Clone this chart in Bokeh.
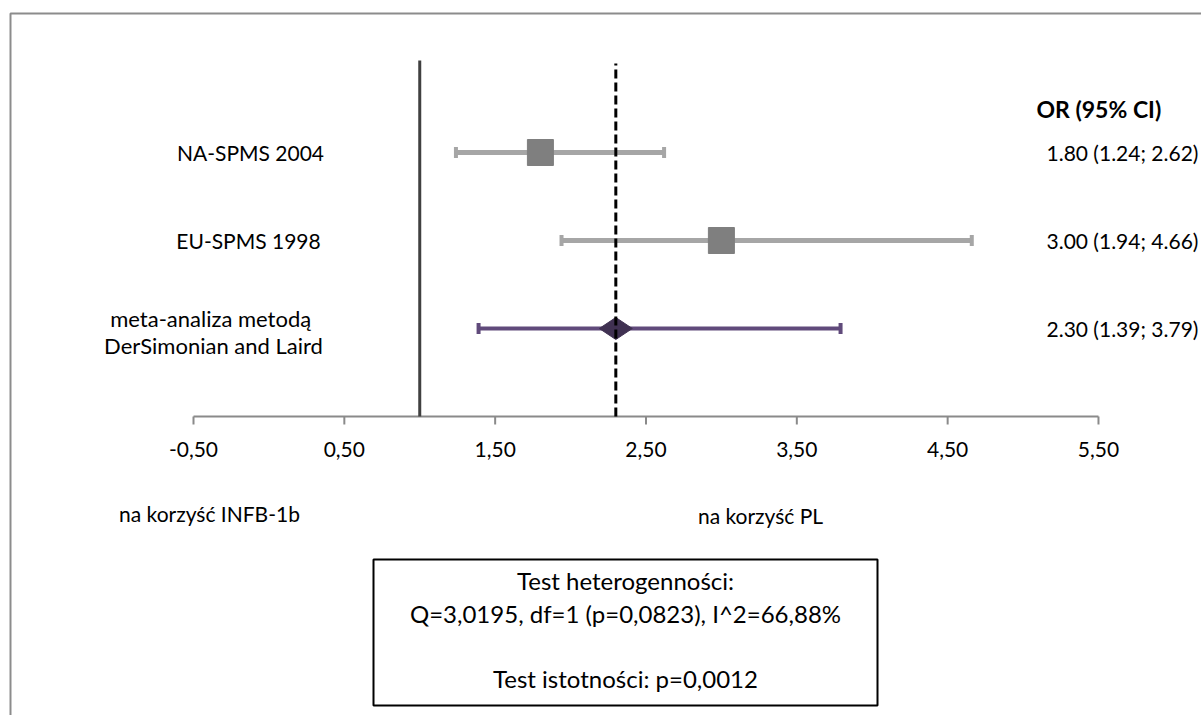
import math
from bokeh.plotting import figure
from bokeh.models import Range1d
from bokeh.embed import file_html
from bokeh.resources import INLINE
from bokeh.core.properties import value

# ---------------- data ----------------
studies = ["NA-SPMS 2004", "EU-SPMS 1998"]
meta_label = ["meta-analiza  metodą", "DerSimonian and Laird"]
or_values = [1.80, 3.00]
ci_low = [1.24, 1.94]
ci_high = [2.62, 4.66]
meta_or = 2.30
meta_low = 1.39
meta_high = 3.79
null_value = 1.0
tick_values = [-0.5, 0.5, 1.5, 2.5, 3.5, 4.5, 5.5]
tick_labels = ["-0,50", "0,50", "1,50", "2,50", "3,50", "4,50", "5,50"]
study_rows = [3, 2]
meta_row = 1
side_labels = ["na korzyść INFB-1b", "na korzyść PL"]
stats_lines = ["Test heterogenności:",
               "Q=3,0195, df=1 (p=0,0823), I^2=66,88%",
               "Test istotności: p=0,0012"]

# ---------------- layout helpers (pixel -> data) ----------------
W, H = 1201, 715
PX_X0, PX_PER_X = 193.0, 150.83   # pixel of x=-0.5, pixels per unit
PX_Y0, PX_PER_Y = 416.0, 88.0     # pixel of y=0 (axis), pixels per row


def xd(px):
    return -0.5 + (px - PX_X0) / PX_PER_X


def yd(py):
    return (PX_Y0 - py) / PX_PER_Y


FONT = value("Lato")

p = figure(width=W, height=H, x_range=Range1d(xd(0), xd(W)),
           y_range=Range1d(yd(H), yd(0)), output_backend="svg",
           toolbar_location=None, min_border=0,
           x_axis_location=None, y_axis_location=None)
p.grid.visible = False
p.outline_line_color = None
p.background_fill_color = "white"
p.border_fill_color = "white"

# outer chart border (left & top visible)
p.line(x=[xd(W + 5), xd(10), xd(10)], y=[yd(13), yd(13), yd(H + 5)],
       line_color="#8c8c8c", line_width=2)

# axis line and ticks
p.segment(x0=[tick_values[0]], x1=[tick_values[-1]], y0=[0], y1=[0],
          line_color="#8a8a8a", line_width=2)
p.segment(x0=tick_values, x1=tick_values, y0=[0] * len(tick_values),
          y1=[yd(424)] * len(tick_values), line_color="#8a8a8a", line_width=2)
p.text(x=tick_values, y=[yd(449)] * len(tick_values), text=tick_labels,
       text_font=FONT, text_font_size="21px", text_color="black",
       text_align="center", text_baseline="middle")

# study CIs
cap = 5.5 / PX_PER_Y
p.segment(x0=ci_low, x1=ci_high, y0=study_rows, y1=study_rows,
          line_color="#a6a6a6", line_width=5)
p.segment(x0=ci_low, x1=ci_low, y0=[r - cap for r in study_rows],
          y1=[r + cap for r in study_rows], line_color="#a6a6a6", line_width=4)
p.segment(x0=ci_high, x1=ci_high, y0=[r - cap for r in study_rows],
          y1=[r + cap for r in study_rows], line_color="#a6a6a6", line_width=4)
p.scatter(x=or_values, y=study_rows, marker="square", size=26,
          fill_color="#7f7f7f", line_color="#7f7f7f")

# meta-analysis CI
p.segment(x0=[meta_low], x1=[meta_high], y0=[meta_row], y1=[meta_row],
          line_color="#604a7b", line_width=4)
p.segment(x0=[meta_low, meta_high], x1=[meta_low, meta_high],
          y0=[meta_row - cap] * 2, y1=[meta_row + cap] * 2,
          line_color="#604a7b", line_width=4)
p.scatter(x=[meta_or], y=[meta_row], marker="diamond", size=33,
          angle=math.pi / 2, fill_color="#403152", line_color="#403152")

# reference lines
top = yd(60)
p.segment(x0=[null_value], x1=[null_value], y0=[0], y1=[top],
          line_color="#404040", line_width=3)
p.segment(x0=[meta_or], x1=[meta_or], y0=[0], y1=[yd(63)],
          line_color="black", line_width=3, line_dash="9 4")

# left labels
p.text(x=[xd(250), xd(248)], y=study_rows, text=studies, text_font=FONT,
       text_font_size="21px", text_color="black", text_align="center",
       text_baseline="middle")
p.text(x=[xd(213), xd(213)], y=[yd(318), yd(345)], text=meta_label,
       text_font=FONT, text_font_size="22px", text_color="black",
       text_align="center", text_baseline="middle")

# right column
p.text(x=[xd(1036)], y=[yd(108)], text=["OR (95% CI)"], text_font=FONT,
       text_font_size="23px", text_font_style="bold", text_color="black",
       text_align="left", text_baseline="middle")
right_texts = [f"{v:.2f} ({lo:.2f}; {hi:.2f})" for v, lo, hi in
               zip(or_values + [meta_or], ci_low + [meta_low], ci_high + [meta_high])]
p.text(x=[xd(1046)] * 3, y=study_rows + [meta_row], text=right_texts,
       text_font=FONT, text_font_size="21px", text_color="black",
       text_align="left", text_baseline="middle")

# side labels
p.text(x=[xd(209), xd(760)], y=[yd(513), yd(515)], text=side_labels,
       text_font=FONT, text_font_size="21px", text_color="black",
       text_align="center", text_baseline="middle")

# stats box
p.quad(left=[xd(373)], right=[xd(877)], top=[yd(559)], bottom=[yd(705)],
       fill_color=None, line_color="black", line_width=2)
p.text(x=[xd(625)] * 3, y=[yd(580), yd(613), yd(678)], text=stats_lines,
       text_font=FONT, text_font_size="24px", text_color="black",
       text_align="center", text_baseline="middle")

open("out.html", "w").write(file_html(p, INLINE))
